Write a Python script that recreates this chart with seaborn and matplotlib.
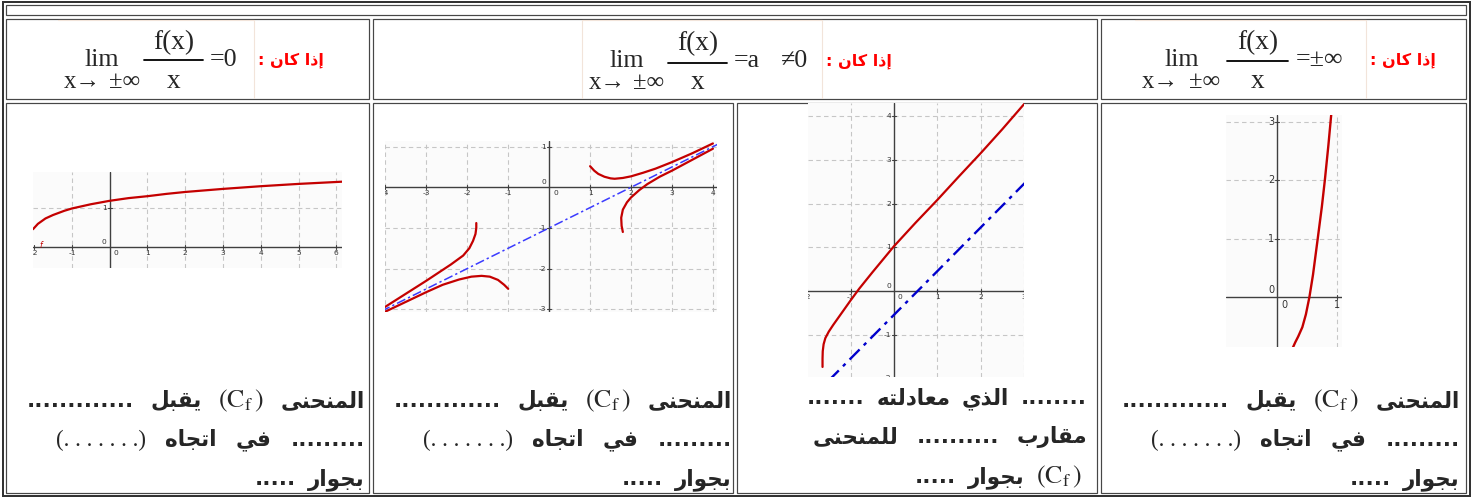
import numpy as np
import pandas as pd
import seaborn as sns
import matplotlib
matplotlib.use("Agg")
import matplotlib.pyplot as plt
from matplotlib.patches import Rectangle
from matplotlib.transforms import offset_copy

# ---------------- data ----------------
# graph 1 (lim f(x)/x = 0)
g1_x = [-2.03, -1.9, -1.7, -1.5, -1.2, -1.0, -0.5, 0.0, 0.5, 1.0, 1.5, 2.0, 3.0, 4.0, 5.0, 6.0, 6.2]
g1_y = [0.46, 0.60, 0.74, 0.83, 0.94, 1.00, 1.11, 1.20, 1.27, 1.32, 1.38, 1.43, 1.51, 1.58, 1.64, 1.69, 1.70]
# graph 2 (four branches + oblique asymptote)
g2a_x = [1.0, 1.1, 1.2, 1.35, 1.5, 1.6, 1.8, 2.0, 2.3, 2.6, 3.0, 3.5, 4.0]
g2a_y = [0.52, 0.41, 0.33, 0.26, 0.22, 0.21, 0.23, 0.27, 0.36, 0.46, 0.62, 0.84, 1.08]
g2b_x = [1.8, 1.77, 1.76, 1.8, 1.9, 2.0, 2.2, 2.4, 2.7, 3.0, 3.5, 4.0]
g2b_y = [-1.1, -0.95, -0.75, -0.55, -0.37, -0.25, -0.07, 0.08, 0.26, 0.41, 0.68, 0.95]
g2c_x = [-1.78, -1.78, -1.8, -1.86, -1.95, -2.1, -2.4, -2.7, -3.0, -3.5, -4.0, -4.1]
g2c_y = [-0.88, -1.0, -1.15, -1.32, -1.5, -1.68, -1.9, -2.1, -2.3, -2.62, -2.94, -2.99]
g2d_x = [-1.0, -1.1, -1.25, -1.45, -1.65, -1.9, -2.2, -2.6, -3.0, -3.5, -4.0, -4.1]
g2d_y = [-2.5, -2.4, -2.28, -2.2, -2.18, -2.2, -2.27, -2.4, -2.58, -2.82, -3.06, -3.11]
g2_asym_x = [-4.1, 4.2]
g2_asym_y = [-3.05, 1.10]
# graph 3 (asymptote y = a x + b)
g3_x = [-1.645, -1.645, -1.64, -1.62, -1.58, -1.5, -1.4, -1.2, -1.0, -0.8, -0.5, 0.0, 0.5, 1.0, 1.5, 2.0, 2.5, 3.05]
g3_y = [-1.74, -1.55, -1.38, -1.22, -1.08, -0.93, -0.78, -0.5, -0.22, 0.05, 0.42, 1.02, 1.56, 2.08, 2.62, 3.15, 3.70, 4.33]
g3_asym_x = [-1.5, 3.05]
g3_asym_y = [-2.05, 2.50]
# graph 4 (lim f(x)/x = +-inf)
g4_x = [0.26, 0.30, 0.35, 0.42, 0.48, 0.54, 0.60, 0.68, 0.75, 0.80, 0.86, 0.91]
g4_y = [-0.87, -0.78, -0.68, -0.52, -0.30, 0.0, 0.38, 1.0, 1.55, 2.0, 2.6, 3.15]

# tick labels
g1_xticks = [-2, -1, 0, 1, 2, 3, 4, 5, 6]
g1_yticks = [0, 1]
g2_xticks = [-4, -3, -2, -1, 0, 1, 2, 3, 4]
g2_yticks = [1, 0, -1, -2, -3]
g3_xticks = [-2, -1, 0, 1, 2, 3]
g3_yticks = [4, 3, 2, 1, 0, -1, -2]
g4_xticks = [0, 1]
g4_yticks = [0, 1, 2, 3]

# texts
label_if = "إذا كان :"
w_curve = "المنحنى"
w_accept = "يقبل"
w_dir = "اتجاه"
w_in = "في"
w_near = "بجوار"
w_which = "الذي"
w_equation = "معادلته"
w_asym = "مقارب"
w_forcurve = "للمنحنى"

# ---------------- setup ----------------
sns.set_theme(style="white")
plt.rcParams["font.family"] = ["DejaVu Sans"]
plt.rcParams["mathtext.fontset"] = "stix"

W, H = 1472, 497
fig = plt.figure(figsize=(W / 100, H / 100), dpi=100)
fig.patch.set_facecolor("white")
ax0 = fig.add_axes([0, 0, 1, 1])
ax0.set_xlim(0, W)
ax0.set_ylim(H, 0)
ax0.axis("off")

PX = 0.72  # points per pixel
SERIF = ["Liberation Serif", "DejaVu Serif"]
AR = ["DejaVu Sans"]

# ---------- arabic shaping (presentation forms) ----------
FORMS = {
    "ا": ("\uFE8D", "\uFE8E", None, None),
    "إ": ("\uFE87", "\uFE88", None, None),
    "ب": ("\uFE8F", "\uFE90", "\uFE91", "\uFE92"),
    "ت": ("\uFE95", "\uFE96", "\uFE97", "\uFE98"),
    "ج": ("\uFE9D", "\uFE9E", "\uFE9F", "\uFEA0"),
    "ح": ("\uFEA1", "\uFEA2", "\uFEA3", "\uFEA4"),
    "د": ("\uFEA9", "\uFEAA", None, None),
    "ذ": ("\uFEAB", "\uFEAC", None, None),
    "ر": ("\uFEAD", "\uFEAE", None, None),
    "ع": ("\uFEC9", "\uFECA", "\uFECB", "\uFECC"),
    "ف": ("\uFED1", "\uFED2", "\uFED3", "\uFED4"),
    "ق": ("\uFED5", "\uFED6", "\uFED7", "\uFED8"),
    "ك": ("\uFED9", "\uFEDA", "\uFEDB", "\uFEDC"),
    "ل": ("\uFEDD", "\uFEDE", "\uFEDF", "\uFEE0"),
    "م": ("\uFEE1", "\uFEE2", "\uFEE3", "\uFEE4"),
    "ن": ("\uFEE5", "\uFEE6", "\uFEE7", "\uFEE8"),
    "ه": ("\uFEE9", "\uFEEA", "\uFEEB", "\uFEEC"),
    "و": ("\uFEED", "\uFEEE", None, None),
    "ى": ("\uFEEF", "\uFEF0", None, None),
    "ي": ("\uFEF1", "\uFEF2", "\uFEF3", "\uFEF4"),
}


def shape(s):
    out = []
    for i, c in enumerate(s):
        f = FORMS.get(c)
        if f is None:
            out.append(c)
            continue
        prev = s[i - 1] if i > 0 else None
        nxt = s[i + 1] if i + 1 < len(s) else None
        jp = prev in FORMS and FORMS[prev][2] is not None
        jn = nxt in FORMS and f[2] is not None
        if jp and jn:
            out.append(f[3])
        elif jp:
            out.append(f[1])
        elif jn:
            out.append(f[2])
        else:
            out.append(f[0])
    return "".join(reversed(out))


# ---------------- table ----------------
def rect(x0, y0, x1, y1, ec="#474747", lw=1.2):
    ax0.add_patch(Rectangle((x0, y0), x1 - x0, y1 - y0, fill=False, ec=ec, lw=lw * PX))


rect(2.5, 1.5, 1469.5, 495.5, ec="#333333", lw=2.0)
rect(6, 5, 1466, 15)
for (a, b) in [(6, 369), (373, 1097), (1101, 1466)]:
    rect(a, 19, b, 99)
for (a, b) in [(6, 369), (373, 733), (737, 1097), (1101, 1466)]:
    rect(a, 103, b, 493)

# faint inner boxes in headers
faint = "#f2e4da"
for xs, xe, vl in [(58, 254, [254]), (582, 822, [582, 822]), (1135, 1366, [1366])]:
    ax0.plot([xs, xe], [20, 20], color=faint, lw=0.8)
    for v in vl:
        ax0.plot([v, v], [20, 98], color=faint, lw=0.8)

# ---------------- header formulas ----------------
FS = 26 * PX


def formula(lim_cx, xarr_l, pm_l, frac_cx, bar, right_parts, base_top, base_mid, base_bot, bar_y, lab_x, lab_y):
    ax0.text(lim_cx, base_mid, "lim", family=SERIF, fontsize=FS, ha="center", va="baseline")
    ax0.text(xarr_l, base_bot, "x→", family=SERIF, fontsize=FS * 0.95, ha="left", va="baseline")
    ax0.text(pm_l, base_bot, "±∞", family=SERIF, fontsize=FS * 0.95, ha="left", va="baseline")
    ax0.text(frac_cx, base_top, "f(x)", family=SERIF, fontsize=FS * 1.05, ha="center", va="baseline")
    ax0.plot(bar, [bar_y, bar_y], color="black", lw=1.3)
    ax0.text(frac_cx, base_bot, "x", family=SERIF, fontsize=FS * 1.05, ha="center", va="baseline")
    for s, xl in right_parts:
        ax0.text(xl, base_mid, s, family=SERIF, fontsize=FS, ha="left", va="baseline")
    ax0.text(lab_x, lab_y, shape(label_if), family=AR, fontweight="bold", fontsize=11.5,
             color="#ff0000", ha="left", va="center")


formula(102, 64, 109, 174, [144, 203], [("=0", 210)], 49, 66, 88, 60, 258, 60)
formula(627, 589, 633, 698, [668, 727], [("=a", 734), ("≠0", 781)], 50, 67, 89, 63, 826, 61)
formula(1182, 1142, 1189, 1258, [1227, 1288], [("=±∞", 1296)], 49, 66, 88, 61, 1370, 60)

# ---------------- body text ----------------
AR_FS = 15.5
CF = r"$(\mathrm{C}_{\mathrm{f}}\,)$"
pending = []


def seg_text(s, kind, y):
    if kind == "ar":
        return ax0.text(0, y, s, family=AR, fontweight="bold", fontsize=AR_FS, ha="left", va="baseline")
    if kind == "cf":
        return ax0.text(0, y, s, fontsize=18.5, ha="left", va="baseline")
    return ax0.text(0, y, s, family=SERIF, fontsize=16.5, ha="left", va="baseline")


def line(segs, y, x0, x1, mode, gap=8):
    arts = [seg_text(s, k, y) for s, k in segs]
    pending.append((arts, x0, x1, mode, gap))


D = lambda n: "." * n
PD = "(. . . . . . .)"

for cx in [6, 373, 1101]:
    line([(D(13), "ar"), (shape(w_accept), "ar"), (CF, "cf"), (shape(w_curve), "ar")], 407, cx + 21, cx + 359, "justify")
    line([(PD, "pd"), (shape(w_dir), "ar"), (shape(w_in), "ar"), (D(9), "ar")], 446, cx + 50, cx + 359, "justify")
    line([(D(5), "ar"), (shape(w_near), "ar")], 485, cx + 21, cx + 359, "right", gap=12)

cx = 737
line([(D(7), "ar"), (shape(w_equation), "ar"), (shape(w_which), "ar"), (D(8), "ar")], 404, cx + 70, cx + 350, "justify")
line([(shape(w_forcurve), "ar"), (D(10), "ar"), (shape(w_asym), "ar")], 443, cx + 76, cx + 350, "justify")
line([(D(5), "ar"), (shape(w_near), "ar"), (CF, "cf")], 483, cx + 140, cx + 345, "right", gap=12)


# ---------------- graphs ----------------
def graph(box, xlim, ylim, gx, gy, xt, yt, fs=5.4):
    x0, y0, x1, y1 = box
    ax = fig.add_axes([x0 / W, 1 - y1 / H, (x1 - x0) / W, (y1 - y0) / H])
    ax.set_xlim(*xlim)
    ax.set_ylim(*ylim)
    ax.set_facecolor("#fbfbfb")
    for s in ax.spines.values():
        s.set_visible(False)
    ax.set_xticks([])
    ax.set_yticks([])
    for g in gx:
        ax.axvline(g, color="#c6c6c6", lw=0.8, ls=(0, (4, 3)), zorder=1)
    for g in gy:
        ax.axhline(g, color="#c6c6c6", lw=0.8, ls=(0, (4, 3)), zorder=1)
    ax.axhline(0, color="#404040", lw=1.0, zorder=2)
    ax.axvline(0, color="#404040", lw=1.0, zorder=2)
    dx = 2.0 * (xlim[1] - xlim[0]) / (x1 - x0)
    dy = 2.0 * (ylim[1] - ylim[0]) / (y1 - y0)
    for t in xt:
        if t != 0:
            ax.plot([t, t], [-dy, dy], color="#404040", lw=0.8, zorder=2)
            tr = offset_copy(ax.transData, fig=fig, x=0, y=-3, units="dots")
            ax.text(t, 0, str(t), transform=tr, ha="center", va="top", fontsize=fs, color="#333333", clip_on=True)
        else:
            tr = offset_copy(ax.transData, fig=fig, x=4, y=-3, units="dots")
            ax.text(0, 0, "0", transform=tr, ha="left", va="top", fontsize=fs, color="#333333", clip_on=True)
    for t in yt:
        if t != 0:
            ax.plot([-dx, dx], [t, t], color="#404040", lw=0.8, zorder=2)
            tr = offset_copy(ax.transData, fig=fig, x=-3, y=0, units="dots")
            ax.text(0, t, str(t), transform=tr, ha="right", va="center", fontsize=fs, color="#333333", clip_on=True)
        else:
            tr = offset_copy(ax.transData, fig=fig, x=-3, y=2, units="dots")
            ax.text(0, 0, "0", transform=tr, ha="right", va="bottom", fontsize=fs, color="#333333", clip_on=True)
    return ax


RED = "#c40000"


def curve(ax, xs, ys, color=RED, lw=1.6, ls="-"):
    sns.lineplot(x=xs, y=ys, ax=ax, color=color, lw=lw, sort=False, estimator=None, legend=False, zorder=3,
                 linestyle=ls)
    ax.set_xlabel("")
    ax.set_ylabel("")


a1 = graph((33, 172, 342, 268), (-2.03, 6.15), (-0.55, 1.95), [-1, 1, 2, 3, 4, 5, 6], [1], g1_xticks, g1_yticks)
curve(a1, g1_x, g1_y)
tr = offset_copy(a1.transData, fig=fig, x=0, y=1, units="dots")
a1.text(-1.82, 0, "f", transform=tr, color=RED, fontsize=5.5, ha="center", va="center", style="italic")

a2 = graph((385, 141, 717, 312), (-4.01, 4.1), (-3.07, 1.14), [-4, -3, -2, -1, 1, 2, 3, 4], [1, -1, -2, -3],
           g2_xticks, g2_yticks)
for xs, ys in [(g2a_x, g2a_y), (g2b_x, g2b_y), (g2c_x, g2c_y), (g2d_x, g2d_y)]:
    curve(a2, xs, ys)
curve(a2, g2_asym_x, g2_asym_y, color="#3a3aff", lw=1.1, ls=(0, (6, 2, 1.5, 2)))

a3 = graph((808, 103, 1024, 377), (-1.98, 3.0), (-1.97, 4.3), [-1, 1, 2, 3], [1, 2, 3, 4, -1, -2],
           g3_xticks, g3_yticks)
curve(a3, g3_x, g3_y)
curve(a3, g3_asym_x, g3_asym_y, color="#0000cc", lw=1.7, ls=(0, (6, 2.5, 1.5, 2.5)))

a4 = graph((1226, 115, 1342, 347), (-0.87, 1.09), (-0.86, 3.12), [1], [1, 2, 3], g4_xticks, g4_yticks, fs=7)
curve(a4, g4_x, g4_y, lw=1.7)

# ---------------- layout of justified lines ----------------
fig.canvas.draw()
rend = fig.canvas.get_renderer()
for arts, x0, x1, mode, gap in pending:
    ws = [a.get_window_extent(rend).width for a in arts]
    if mode == "justify" and len(arts) > 1:
        g = (x1 - x0 - sum(ws)) / (len(arts) - 1)
        x = x0
    else:
        g = gap
        x = x1 - sum(ws) - g * (len(arts) - 1)
    for a, w in zip(arts, ws):
        a.set_x(x)
        x += w + g

fig.savefig("out.png", dpi=100, facecolor="white")
